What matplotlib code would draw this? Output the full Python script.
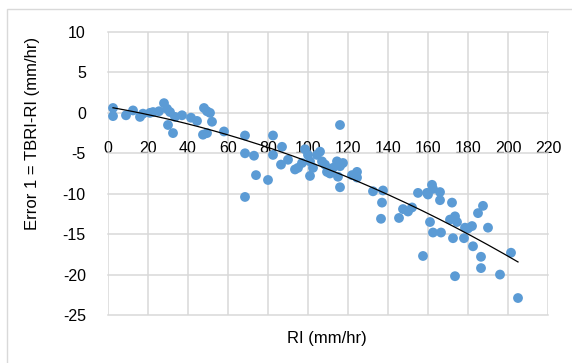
import numpy as np
import matplotlib
matplotlib.use("Agg")
import matplotlib.pyplot as plt
from matplotlib.patches import Rectangle

plt.rcParams['font.family'] = ['Liberation Sans', 'DejaVu Sans']
plt.rcParams['axes.unicode_minus'] = False

# RI (mm/hr) e Error 1 = TBRI-RI (mm/hr)
ri = [2.5, 2.5, 9, 12.5, 16, 17.5, 21, 22.5, 25.5, 28, 29.5, 31, 30, 32.5, 33.5,
      37, 41.5, 44.5, 48, 49.5, 51, 52, 47.5, 49.5, 58,
      68.5, 68.5, 73, 74, 68.5, 80, 82.5, 82.5, 87, 86.5, 90, 93.5, 95, 97,
      98.5, 100, 101, 102.5, 101, 104.5, 106, 107, 108.5, 109.5, 111, 112.5,
      114.5, 116, 117.5, 115, 116, 116, 122, 124.5, 124.5, 132.5, 137.5, 137,
      136.5, 145.5, 147.5, 150, 152, 155, 157.5, 159.5, 160, 161, 162, 162.5,
      162.5, 166, 166, 166.5, 172, 171, 173.5, 174.5, 172.5, 173.5, 178.5, 178,
      180, 182, 182.5, 185, 187.5, 190, 186.5, 186.5, 196, 201.5, 205]
erro = [0.6, -0.4, -0.3, 0.3, -0.5, -0.1, 0.0, 0.1, 0.2, 1.2, 0.5, 0.1, -1.5, -2.5, -0.5,
        -0.3, -0.6, -1.0, 0.6, 0.2, 0.0, -1.1, -2.7, -2.5, -2.3,
        -2.8, -5.0, -5.3, -7.7, -10.4, -8.3, -2.8, -5.2, -4.2, -6.4, -5.8, -7.0, -6.8, -6.2,
        -4.5, -5.2, -6.0, -6.8, -7.8, -5.2, -4.8, -6.0, -6.4, -7.3, -7.5, -6.8,
        -6.0, -6.6, -6.2, -7.9, -9.2, -1.5, -7.7, -7.3, -8.0, -9.7, -9.6, -11.1,
        -13.1, -13.0, -11.9, -12.2, -11.7, -9.9, -17.7, -9.9, -10.1, -13.5, -8.9, -9.4,
        -14.8, -9.8, -10.8, -14.8, -11.1, -13.2, -12.8, -13.5, -15.5, -20.2, -14.2, -15.5,
        -14.3, -14.0, -16.5, -12.4, -11.5, -14.2, -17.8, -19.2, -20.0, -17.3, -22.9]

x_ticks = list(range(0, 221, 20))
y_ticks = list(range(-25, 11, 5))

fig = plt.figure(figsize=(5.72, 3.63), dpi=100)
ax = fig.add_axes([108 / 572, 1 - 315 / 363, 440 / 572, 283 / 363])

# moldura externa cinza
fig.patches.append(Rectangle((7 / 572, -0.1), 1.1, 1 - 9 / 363 + 0.1,
                             transform=fig.transFigure, fill=False,
                             edgecolor="#d9d9d9", linewidth=1.0))

ax.scatter(ri, erro, s=50, color="#5b9bd5", edgecolors="none", zorder=3)

# linha de tendência polinomial (ordem 2)
coef = np.polyfit(ri, erro, 2)
xs = np.linspace(min(ri), max(ri), 200)
ax.plot(xs, np.polyval(coef, xs), color="black", linewidth=0.9, zorder=4)

ax.set_xlim(0, 220)
ax.set_ylim(-25, 10)
ax.set_xticks(x_ticks)
ax.set_yticks(y_ticks)
ax.grid(True, color="#d9d9d9", linewidth=1.1)
for g in ax.get_xgridlines() + ax.get_ygridlines():
    g.set_clip_on(False)
ax.set_axisbelow(True)

for s in ax.spines.values():
    s.set_visible(False)
ax.spines['bottom'].set_position(('data', 0))
ax.tick_params(axis='x', length=0, pad=20, labelsize=11.5)
ax.tick_params(axis='y', length=0, pad=16, labelsize=11.5)

fig.text(33 / 572, 1 - 133 / 363, "Error 1 = TBRI-RI (mm/hr)", rotation=90,
         ha="center", va="center", fontsize=12)
fig.text(327 / 572, 1 - 339 / 363, "RI (mm/hr)", ha="center", va="center",
         fontsize=12)

fig.savefig("out.png", dpi=100)
